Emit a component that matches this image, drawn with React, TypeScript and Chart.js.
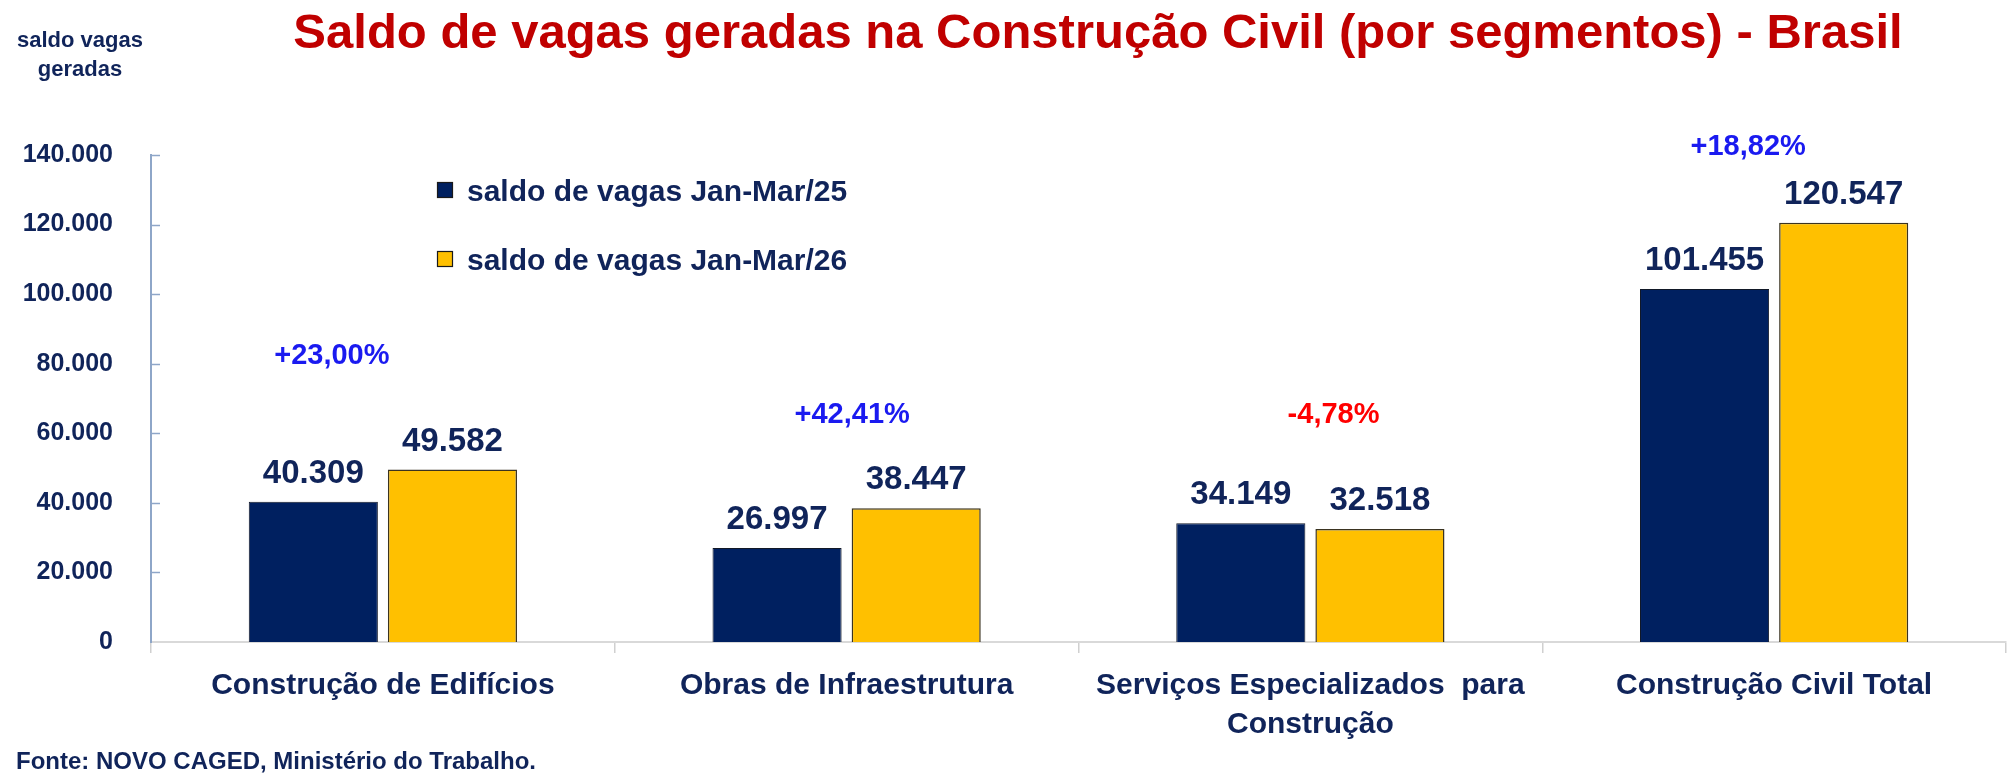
import React, { useEffect, useRef } from 'react';
import { Chart, registerables } from 'chart.js';

Chart.register(...registerables);

// ---------- data ----------
const categories: string[][] = [
  ['Construção de Edifícios'],
  ['Obras de Infraestrutura'],
  ['Serviços Especializados  para', 'Construção'],
  ['Construção Civil Total'],
];
const seriesLabels = ['saldo de vagas Jan-Mar/25', 'saldo de vagas Jan-Mar/26'];
const values2025 = [40309, 26997, 34149, 101455];
const values2026 = [49582, 38447, 32518, 120547];
const changeLabels = ['+23,00%', '+42,41%', '-4,78%', '+18,82%'];
// annotation anchors for the % change texts (value height, offset in category widths)
const changeAnchorValue = [82800, 65800, 65800, 142900];
const changeAnchorOffset = [-0.11, 0.012, 0.05, -0.056];
const yMin = 0;
const yMax = 140000;
const yStep = 20000;

const titleText = 'Saldo de vagas geradas na Construção Civil (por segmentos) - Brasil';
const yTitleLines = ['saldo vagas', 'geradas'];
const sourceText = 'Fonte: NOVO CAGED, Ministério do Trabalho.';

// ---------- styles ----------
const FONT = "'Liberation Sans', Arial, Helvetica, sans-serif";
const NAVY = '#10245A';
const BAR1 = '#002060';
const BAR2 = '#FFC000';
const RED_TITLE = '#C00000';

const fmt = (v: number) => String(Math.round(v)).replace(/\B(?=(\d{3})+(?!\d))/g, '.');

const overlayPlugin = {
  id: 'overlay',
  afterDraw(chart: any) {
    const { ctx, chartArea, scales } = chart;
    const xs = scales.x;
    const ys = scales.y;
    ctx.save();

    // inward y ticks
    ctx.strokeStyle = '#8EA6C8';
    ctx.lineWidth = 1.5;
    ys.ticks.forEach((t: any) => {
      if (t.value === 0) return;
      const py = Math.round(ys.getPixelForValue(t.value)) + 0.5;
      ctx.beginPath();
      ctx.moveTo(chartArea.left, py);
      ctx.lineTo(chartArea.left + 9, py);
      ctx.stroke();
    });

    // value labels on bars
    ctx.font = `bold 33px ${FONT}`;
    ctx.fillStyle = NAVY;
    ctx.textAlign = 'center';
    ctx.textBaseline = 'alphabetic';
    chart.data.datasets.forEach((ds: any, di: number) => {
      const meta = chart.getDatasetMeta(di);
      meta.data.forEach((bar: any, i: number) => {
        ctx.fillText(fmt(ds.data[i]), bar.x, bar.y - 19);
      });
    });

    // % change labels
    ctx.font = `bold 29px ${FONT}`;
    const catW = xs.getPixelForValue(1) - xs.getPixelForValue(0);
    changeLabels.forEach((txt, i) => {
      const cx = xs.getPixelForValue(i) + changeAnchorOffset[i] * catW;
      const cy = ys.getPixelForValue(changeAnchorValue[i]);
      ctx.fillStyle = txt.startsWith('-') ? '#FF0000' : '#1A1AF0';
      ctx.fillText(txt, cx, cy + 10);
    });

    // title
    ctx.font = `bold 49px ${FONT}`;
    ctx.fillStyle = RED_TITLE;
    ctx.fillText(titleText, 1098, 48);

    // y axis title
    ctx.font = `bold 22px ${FONT}`;
    ctx.fillStyle = NAVY;
    ctx.fillText(yTitleLines[0], 80, 47);
    ctx.fillText(yTitleLines[1], 80, 76);

    // legend
    const legendColors = [BAR1, BAR2];
    const legendY = [190, 259];
    ctx.font = `bold 30px ${FONT}`;
    ctx.textAlign = 'left';
    seriesLabels.forEach((lab, i) => {
      ctx.fillStyle = legendColors[i];
      ctx.fillRect(437, legendY[i] - 8, 16, 16);
      ctx.strokeStyle = '#1a1a1a';
      ctx.lineWidth = 1.2;
      ctx.strokeRect(437.5, legendY[i] - 7.5, 15, 15);
      ctx.fillStyle = NAVY;
      ctx.fillText(lab, 467, legendY[i] + 11);
    });

    // source
    ctx.font = `bold 24px ${FONT}`;
    ctx.fillStyle = NAVY;
    ctx.fillText(sourceText, 16, 769);

    ctx.restore();
  },
};

export default function App() {
  const canvasRef = useRef<HTMLCanvasElement | null>(null);

  useEffect(() => {
    if (!canvasRef.current) return;
    const chart = new Chart(canvasRef.current, {
      type: 'bar',
      data: {
        labels: categories as any,
        datasets: [
          {
            label: seriesLabels[0],
            data: values2025,
            backgroundColor: BAR1,
            borderColor: '#111827',
            borderWidth: 1,
            categoryPercentage: 0.6,
            barPercentage: 0.928,
          },
          {
            label: seriesLabels[1],
            data: values2026,
            backgroundColor: BAR2,
            borderColor: '#3a3320',
            borderWidth: 1.5,
            categoryPercentage: 0.6,
            barPercentage: 0.928,
          },
        ],
      },
      options: {
        responsive: false,
        animation: false,
        devicePixelRatio: 1,
        layout: { padding: { top: 155, right: 5, bottom: 0, left: 0 } },
        plugins: {
          legend: { display: false },
          tooltip: { enabled: false },
          title: { display: false },
        },
        scales: {
          x: {
            type: 'category',
            offset: true,
            grid: {
              display: true,
              offset: true,
              drawOnChartArea: false,
              drawTicks: true,
              tickLength: 11,
              color: '#D0D0D0',
              lineWidth: 1.5,
            },
            border: { display: true, color: '#D9D9D9', width: 2 },
            ticks: {
              font: { family: FONT, size: 30, weight: 'bold', lineHeight: 1.3 },
              color: NAVY,
              padding: 13,
              maxRotation: 0,
              autoSkip: false,
            },
            afterFit: (s: any) => {
              s.height = 132;
            },
          },
          y: {
            min: yMin,
            max: yMax,
            grid: { display: false, drawTicks: false },
            border: { display: true, color: '#8EA6C8', width: 2 },
            ticks: {
              stepSize: yStep,
              font: { family: FONT, size: 25, weight: 'bold' },
              color: NAVY,
              padding: 38,
              callback: (v: any) => fmt(Number(v)),
            },
            afterFit: (s: any) => {
              s.width = 151;
            },
          },
        },
      },
      plugins: [overlayPlugin],
    });
    return () => chart.destroy();
  }, []);

  return (
    <div style={{ position: 'fixed', left: 0, top: 0, width: 2011, height: 774, background: '#fff' }}>
      <canvas ref={canvasRef} width={2011} height={774} style={{ display: 'block' }} />
    </div>
  );
}
